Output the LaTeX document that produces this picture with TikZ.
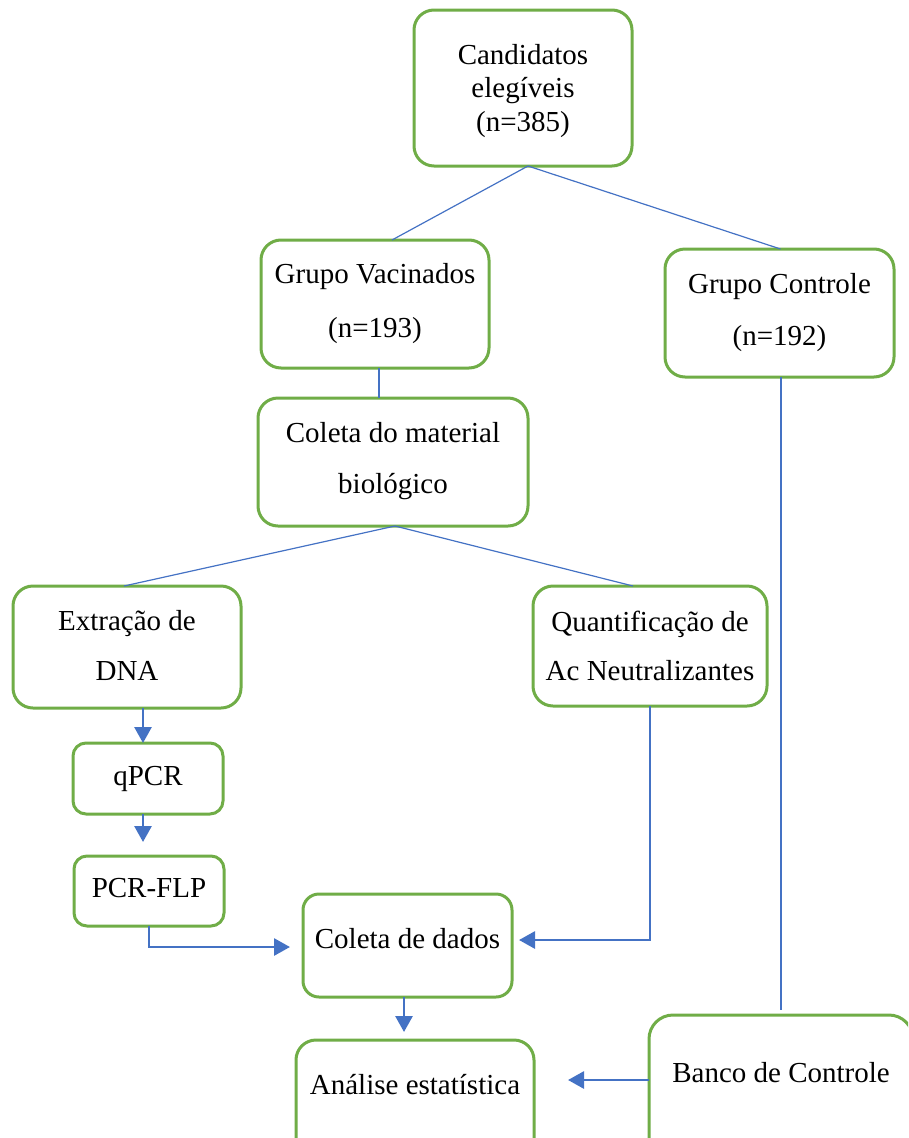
\documentclass[tikz,border=0pt]{standalone}
\usepackage{fontspec}
\setmainfont{Liberation Serif}
\usetikzlibrary{arrows.meta}
\definecolor{boxgreen}{HTML}{70AD47}
\definecolor{linkblue}{HTML}{4472C4}
\tikzset{
  box/.style={draw=boxgreen, line width=3pt, fill=white, align=center,
    inner xsep=0pt, inner ysep=0pt, outer sep=0pt, anchor=north,
    rounded corners=20pt, font=\fontsize{29}{34}\selectfont},
  smallbox/.style={box, rounded corners=13pt},
  link/.style={draw=linkblue, line width=1.2pt},
  flow/.style={draw=linkblue, line width=2.8pt,
    -{Triangle[length=16pt,width=17pt]}},
}
\begin{document}
\begin{tikzpicture}[x=1pt,y=-1pt]
\useasboundingbox (0,0) rectangle (908,1138);
\clip (0,0) rectangle (908,1138);

\node[box, minimum width=218pt, minimum height=156pt, text height=121pt, text depth=35pt,
  font=\fontsize{29}{33.5}\selectfont] (cand) at (523,10) {Candidatos\\elegíveis\\(n=385)};
\node[box, minimum width=228pt, minimum height=128pt, text height=97pt, text depth=31pt,
  font=\fontsize{29}{54}\selectfont] (vac) at (375,240) {Grupo Vacinados\\(n=193)};
\node[box, minimum width=229pt, minimum height=128pt, text height=96pt, text depth=32pt,
  font=\fontsize{29}{52}\selectfont] (ctrl) at (779.5,249) {Grupo Controle\\(n=192)};
\node[box, minimum width=270pt, minimum height=128pt, text height=95pt, text depth=33pt,
  font=\fontsize{29}{51}\selectfont] (colm) at (393,398) {Coleta do material\\biológico};
\node[box, minimum width=228pt, minimum height=122pt, text height=94pt, text depth=28pt,
  font=\fontsize{29}{50}\selectfont] (extr) at (127,586) {Extração de\\DNA};
\node[box, minimum width=234pt, minimum height=120pt, text height=94pt, text depth=26pt,
  font=\fontsize{29}{49}\selectfont] (quant) at (650,586) {Quantificação de\\Ac Neutralizantes};
\node[smallbox, minimum width=150pt, minimum height=71pt, text height=42pt, text depth=29pt]
  (qpcr) at (148,743) {qPCR};
\node[smallbox, minimum width=150pt, minimum height=70pt, text height=41pt, text depth=29pt]
  (pcrflp) at (149,856) {PCR-FLP};
\node[box, rounded corners=16pt, minimum width=209pt, minimum height=103pt, text height=54pt, text depth=49pt]
  (dados) at (407.5,894) {Coleta de dados};
\node[box, minimum width=238pt, minimum height=140pt, text height=54pt, text depth=86pt]
  (anal) at (415,1040) {Análise estatística};
\node[box, rounded corners=24pt, minimum width=264pt, minimum height=150pt, text height=67pt, text depth=83pt]
  (banco) at (781,1015) {Banco de Controle};

\coordinate (pcrtip) at (290,947);
\coordinate (quanttip) at (519,940);
\coordinate (analtip) at (568,1080);

% thin connectors
\draw[link] ([xshift=5pt]cand.south) -- ([xshift=17pt]vac.north);
\draw[link] ([xshift=5pt]cand.south) -- ([xshift=1pt]ctrl.north);
\draw[link] ([xshift=4pt]vac.south) -- ([xshift=-14pt]colm.north);
\draw[link] ([xshift=2pt]colm.south) -- ([xshift=-3pt]extr.north);
\draw[link] ([xshift=2pt]colm.south) -- ([xshift=-17pt]quant.north);
\draw[link] ([xshift=1.5pt]ctrl.south) -- ([yshift=5pt]banco.north);

% arrows
\draw[flow] ([xshift=16pt]extr.south) -- ([xshift=-5pt]qpcr.north);
\draw[flow] ([xshift=-5pt]qpcr.south) -- ([xshift=-6pt,yshift=14pt]pcrflp.north);
\draw[flow] (pcrflp.south) |- (pcrtip);
\draw[flow] (quant.south) |- (quanttip);
\draw[flow] ([xshift=-3.5pt]dados.south) -- ([xshift=-11pt,yshift=8pt]anal.north);
\draw[flow] ([yshift=10pt]banco.west) -- (analtip);
\end{tikzpicture}
\end{document}
